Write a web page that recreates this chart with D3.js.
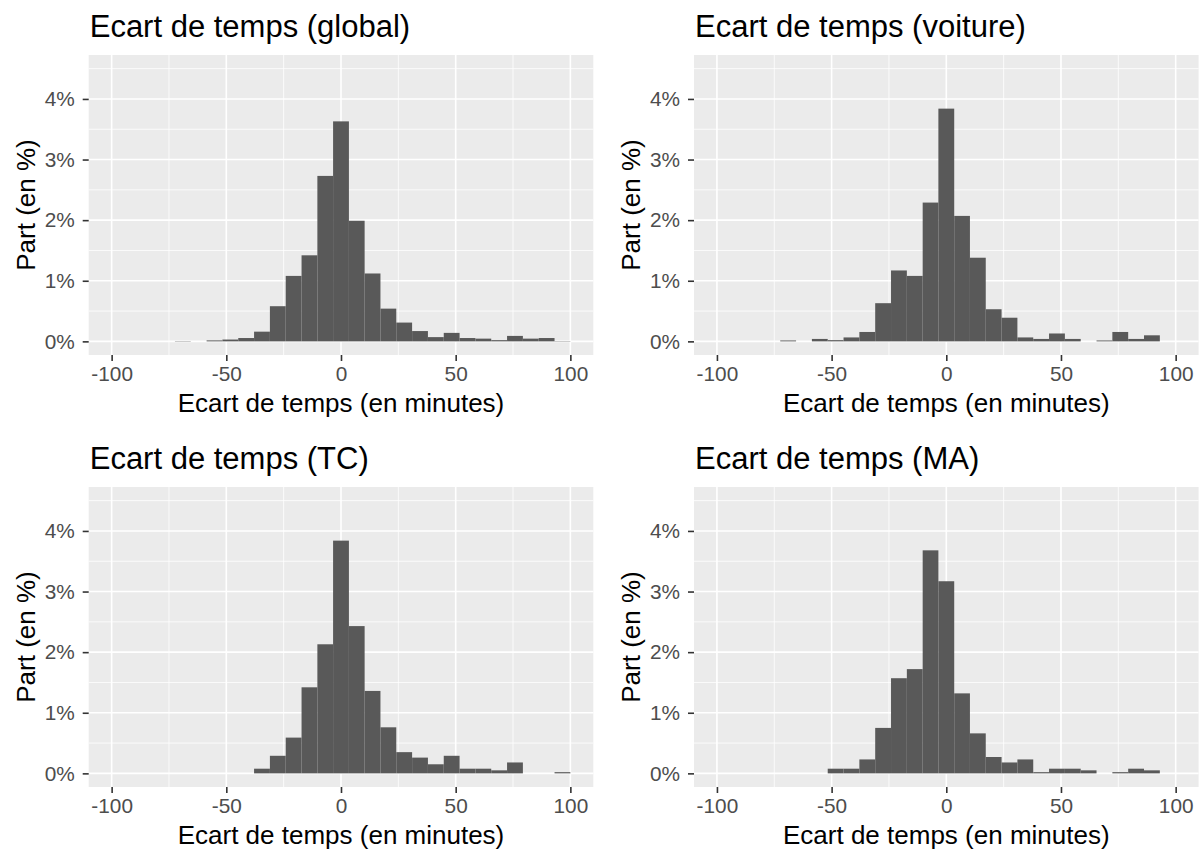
<!DOCTYPE html>
<html>
<head>
<meta charset="utf-8">
<script src="https://cdn.jsdelivr.net/npm/d3@7"></script>
<style>
  body { margin: 0; background: #fff; }
  svg { display: block; }
  text { font-family: "Liberation Sans", Arial, Helvetica, sans-serif; }
</style>
</head>
<body>
<svg width="1200" height="852"></svg>
<script>
const panelTitles = [
  "Ecart de temps (global)",
  "Ecart de temps (voiture)",
  "Ecart de temps (TC)",
  "Ecart de temps (MA)"
];
const xTitle = "Ecart de temps (en minutes)";
const yTitle = "Part (en %)";

// bin edges (minutes), 29 bins
const binEdges = [
  -100, -93.1, -86.2, -79.3, -72.4, -65.5, -58.6, -51.7, -44.8, -37.9,
  -31.0, -24.1, -17.2, -10.3, -3.45, 3.45, 10.3, 17.2, 24.1, 31.0,
  37.9, 44.8, 51.7, 58.6, 65.5, 72.4, 79.3, 86.2, 93.1, 100
];

// share per bin (%)
const shareGlobal = [0, 0, 0, 0, 0.005, 0, 0.016, 0.03, 0.055, 0.16, 0.58, 1.08, 1.42, 2.73, 3.63,
  1.99, 1.12, 0.54, 0.31, 0.17, 0.07, 0.14, 0.055, 0.045, 0.02, 0.09, 0.045, 0.055, 0.005];
const shareVoiture = [0, 0, 0, 0, 0.015, 0, 0.04, 0.02, 0.065, 0.155, 0.63, 1.17, 1.08, 2.29, 3.84,
  2.07, 1.38, 0.53, 0.39, 0.065, 0.04, 0.13, 0.04, 0, 0.015, 0.155, 0.04, 0.1, 0];
const shareTC = [0, 0, 0, 0, 0, 0, 0, 0, 0, 0.077, 0.29, 0.59, 1.42, 2.13, 3.84,
  2.43, 1.36, 0.76, 0.35, 0.26, 0.15, 0.29, 0.077, 0.077, 0.05, 0.18, 0, 0, 0.02];
const shareMA = [0, 0, 0, 0, 0, 0, 0, 0.077, 0.077, 0.23, 0.75, 1.57, 1.72, 3.68, 3.17,
  1.32, 0.66, 0.27, 0.18, 0.23, 0.02, 0.077, 0.077, 0.05, 0, 0.02, 0.077, 0.05, 0];

const xTicks = [-100, -50, 0, 50, 100];
const xMinor = [-75, -25, 25, 75];
const yTicks = [0, 1, 2, 3, 4];
const yMinor = [0.5, 1.5, 2.5, 3.5, 4.5];

const series = [shareGlobal, shareVoiture, shareTC, shareMA];

const pw = 504.6, ph = 300;
const lefts = [88.7, 694];
const tops = [55, 487];

const x = d3.scaleLinear().domain([-110, 110]).range([0, pw]);
const y = d3.scaleLinear().domain([-0.225, 4.725]).range([ph, 0]);

const svg = d3.select("svg");

series.forEach((values, i) => {
  const g = svg.append("g")
    .attr("transform", `translate(${lefts[i % 2]}, ${tops[Math.floor(i / 2)]})`);

  g.append("rect")
    .attr("width", pw).attr("height", ph)
    .attr("fill", "#EBEBEB");

  // grid
  g.selectAll(".vminor").data(xMinor).enter().append("line")
    .attr("x1", d => x(d)).attr("x2", d => x(d))
    .attr("y1", 0).attr("y2", ph)
    .attr("stroke", "#fff").attr("stroke-width", 0.8);
  g.selectAll(".hminor").data(yMinor).enter().append("line")
    .attr("y1", d => y(d)).attr("y2", d => y(d))
    .attr("x1", 0).attr("x2", pw)
    .attr("stroke", "#fff").attr("stroke-width", 0.8);
  g.selectAll(".vmajor").data(xTicks).enter().append("line")
    .attr("x1", d => x(d)).attr("x2", d => x(d))
    .attr("y1", 0).attr("y2", ph)
    .attr("stroke", "#fff").attr("stroke-width", 1.6);
  g.selectAll(".hmajor").data(yTicks).enter().append("line")
    .attr("y1", d => y(d)).attr("y2", d => y(d))
    .attr("x1", 0).attr("x2", pw)
    .attr("stroke", "#fff").attr("stroke-width", 1.6);

  // bars
  const bins = values.map((v, k) => ({ x0: binEdges[k], x1: binEdges[k + 1], v: v }))
    .filter(b => b.v > 0);
  g.selectAll(".bar").data(bins).enter().append("rect")
    .attr("x", d => x(d.x0))
    .attr("width", d => x(d.x1) - x(d.x0))
    .attr("y", d => y(d.v))
    .attr("height", d => y(0) - y(d.v))
    .attr("fill", "#595959");

  // axes
  const xAxis = d3.axisBottom(x).tickValues(xTicks).tickSize(6).tickPadding(5.5)
    .tickFormat(d => String(d));
  const yAxis = d3.axisLeft(y).tickValues(yTicks).tickSize(6).tickPadding(8)
    .tickFormat(d => d + "%");

  [g.append("g").attr("transform", `translate(0, ${ph})`).call(xAxis),
   g.append("g").call(yAxis)].forEach(ax => {
    ax.select(".domain").remove();
    ax.selectAll("line").attr("stroke", "#333333").attr("stroke-width", 1.6);
    ax.selectAll("text")
      .attr("fill", "#4D4D4D")
      .style("font-size", "20.8px");
  });

  // titles
  g.append("text")
    .attr("x", 1).attr("y", -18)
    .style("font-size", "31px")
    .attr("fill", "#000")
    .text(panelTitles[i]);

  g.append("text")
    .attr("x", pw / 2).attr("y", ph + 57)
    .attr("text-anchor", "middle")
    .style("font-size", "26px")
    .attr("fill", "#000")
    .text(xTitle);

  g.append("text")
    .attr("transform", `translate(-54, ${ph / 2}) rotate(-90)`)
    .attr("text-anchor", "middle")
    .style("font-size", "26px")
    .attr("fill", "#000")
    .text(yTitle);
});
</script>
</body>
</html>
